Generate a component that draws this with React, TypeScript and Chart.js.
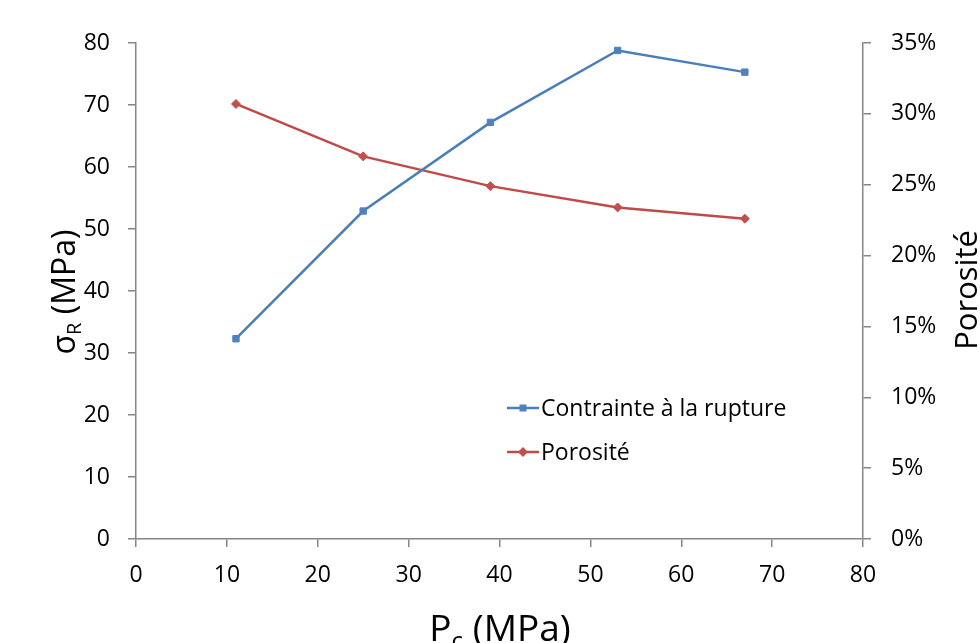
import React, { useEffect, useRef } from "react";
import { Chart, registerables } from "chart.js";

Chart.register(...registerables);

const pressures = [11, 25, 39, 53, 67];
const contrainte = [32.3, 52.9, 67.2, 78.8, 75.3];
const porosite = [0.307, 0.27, 0.249, 0.234, 0.226];

const seriesLabels = ["Contrainte à la rupture", "Porosité"];
const blueLine = "#4A7EBB";
const blueMark = "#4F81BD";
const redLine = "#BE4B48";
const redMark = "#C0504D";
const axisColor = "#868686";
const FONT = "'Open Sans', sans-serif";

function drawMarker(ctx: CanvasRenderingContext2D, style: string, x: number, y: number, color: string) {
  ctx.save();
  ctx.fillStyle = color;
  ctx.beginPath();
  if (style === "rect") {
    ctx.rect(x - 3.5, y - 3.5, 7, 7);
  } else {
    ctx.moveTo(x, y - 5);
    ctx.lineTo(x + 5, y);
    ctx.lineTo(x, y + 5);
    ctx.lineTo(x - 5, y);
    ctx.closePath();
  }
  ctx.fill();
  ctx.restore();
}

const annotations = {
  id: "annotations",
  afterDraw(chart: any) {
    const ctx: CanvasRenderingContext2D = chart.ctx;
    ctx.save();
    ctx.fillStyle = "#000";

    // Legend
    const legendRows = [
      { label: seriesLabels[0], line: blueLine, mark: blueMark, style: "rect", y: 408 },
      { label: seriesLabels[1], line: redLine, mark: redMark, style: "rectRot", y: 452 },
    ];
    for (const r of legendRows) {
      ctx.strokeStyle = r.line;
      ctx.lineWidth = 2.5;
      ctx.beginPath();
      ctx.moveTo(507, r.y);
      ctx.lineTo(539, r.y);
      ctx.stroke();
      drawMarker(ctx, r.style, 523, r.y, r.mark);
      ctx.fillStyle = "#000";
      ctx.font = `23px ${FONT}`;
      ctx.textBaseline = "middle";
      ctx.textAlign = "left";
      ctx.fillText(r.label, 541, r.y + 1);
    }

    // Left y title: σR (MPa)
    ctx.save();
    ctx.translate(75, 292);
    ctx.rotate(-Math.PI / 2);
    ctx.textBaseline = "alphabetic";
    ctx.textAlign = "left";
    const big = `32px ${FONT}`;
    const small = `20px ${FONT}`;
    ctx.font = big;
    const wS = ctx.measureText("σ").width;
    const wRest = ctx.measureText(" (MPa)").width;
    ctx.font = small;
    const wR = ctx.measureText("R").width;
    const total = wS + wR + wRest;
    let x0 = -total / 2;
    ctx.font = big;
    ctx.fillText("σ", x0, 0);
    x0 += wS;
    ctx.font = small;
    ctx.fillText("R", x0, 6);
    x0 += wR;
    ctx.font = big;
    ctx.fillText(" (MPa)", x0, 0);
    ctx.restore();

    // X title: Pc (MPa)
    ctx.save();
    ctx.textBaseline = "alphabetic";
    ctx.textAlign = "left";
    const bigX = `37px ${FONT}`;
    const smallX = `24px ${FONT}`;
    ctx.font = bigX;
    const wP = ctx.measureText("P").width;
    const wRestX = ctx.measureText(" (MPa)").width;
    ctx.font = smallX;
    const wc = ctx.measureText("c").width;
    const totalX = wP + wc + wRestX;
    let xx = 500 - totalX / 2;
    const base = 641;
    ctx.font = bigX;
    ctx.fillText("P", xx, base);
    xx += wP;
    ctx.font = smallX;
    ctx.fillText("c", xx, base + 8);
    xx += wc;
    ctx.font = bigX;
    ctx.fillText(" (MPa)", xx, base);
    ctx.restore();

    // Right y title: Porosité
    ctx.save();
    ctx.translate(977, 290);
    ctx.rotate(-Math.PI / 2);
    ctx.textBaseline = "alphabetic";
    ctx.textAlign = "center";
    ctx.font = `31px ${FONT}`;
    ctx.fillText("Porosité", 0, 0);
    ctx.restore();

    ctx.restore();
  },
};

export default function App() {
  const canvasRef = useRef<HTMLCanvasElement | null>(null);

  useEffect(() => {
    const canvas = canvasRef.current;
    if (!canvas) return;
    const tickFont = { family: FONT, size: 23 };
    const axisGrid = {
      display: true,
      drawOnChartArea: false,
      drawTicks: true,
      tickLength: 8,
      color: axisColor,
      lineWidth: 1.5,
    };
    const chart = new Chart(canvas, {
      type: "line",
      data: {
        datasets: [
          {
            label: seriesLabels[0],
            data: pressures.map((p, i) => ({ x: p, y: contrainte[i] })),
            borderColor: blueLine,
            backgroundColor: blueMark,
            pointBackgroundColor: blueMark,
            pointBorderColor: blueMark,
            pointStyle: "rect",
            pointRadius: 4.5,
            pointBorderWidth: 1,
            borderWidth: 2.5,
            yAxisID: "y",
            tension: 0,
          },
          {
            label: seriesLabels[1],
            data: pressures.map((p, i) => ({ x: p, y: porosite[i] })),
            borderColor: redLine,
            backgroundColor: redMark,
            pointBackgroundColor: redMark,
            pointBorderColor: redMark,
            pointStyle: "rectRot",
            pointRadius: 4.5,
            pointBorderWidth: 1,
            borderWidth: 2.5,
            yAxisID: "y1",
            tension: 0,
          },
        ],
      },
      options: {
        responsive: false,
        animation: false,
        devicePixelRatio: window.devicePixelRatio || 1,
        layout: { padding: { top: 43, left: 0, right: 0, bottom: 0 } },
        plugins: {
          legend: { display: false },
          tooltip: { enabled: false },
          title: { display: false },
        },
        scales: {
          x: {
            type: "linear",
            min: 0,
            max: 80,
            ticks: { stepSize: 10, color: "#000", font: tickFont, padding: 15, maxRotation: 0 },
            grid: axisGrid,
            border: { display: true, color: axisColor, width: 1.5 },
            afterFit: (s: any) => {
              s.height = 104;
            },
          },
          y: {
            type: "linear",
            position: "left",
            min: 0,
            max: 80,
            ticks: { stepSize: 10, color: "#000", font: tickFont, padding: 18 },
            grid: axisGrid,
            border: { display: true, color: axisColor, width: 1.5 },
            afterFit: (s: any) => {
              s.width = 136;
            },
          },
          y1: {
            type: "linear",
            position: "right",
            min: 0,
            max: 0.35,
            ticks: {
              stepSize: 0.05,
              color: "#000",
              font: tickFont,
              padding: 20,
              callback: (v: any) => `${Math.round(Number(v) * 100)}%`,
            },
            grid: axisGrid,
            border: { display: true, color: axisColor, width: 1.5 },
            afterFit: (s: any) => {
              s.width = 117;
            },
          },
        },
      },
      plugins: [annotations],
    } as any);
    return () => {
      chart.destroy();
    };
  }, []);

  return (
    <div style={{ position: "fixed", left: 0, top: 0, width: 980, height: 643, background: "#fff" }}>
      <canvas ref={canvasRef} width={980} height={643} style={{ width: 980, height: 643, display: "block" }} />
    </div>
  );
}
